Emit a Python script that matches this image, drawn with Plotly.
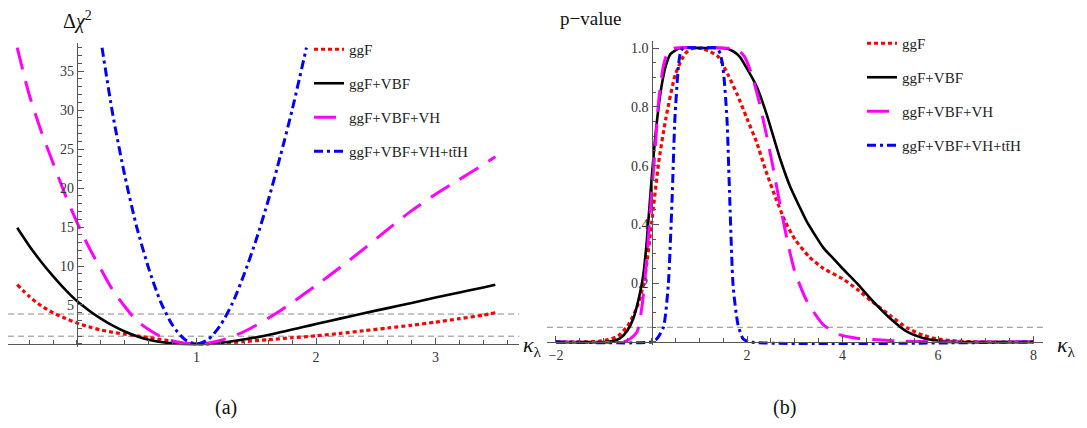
import plotly.graph_objects as go

# ---------------- Panel (a): delta chi^2 vs kappa_lambda ----------------
k_ggF = [-0.5, -0.4, -0.3, -0.2, -0.1, 0.0, 0.1, 0.2, 0.3, 0.4, 0.5, 0.6, 0.7, 0.8, 0.9, 1.0,
         1.2, 1.4, 1.6, 1.8, 2.0, 2.2, 2.4, 2.6, 2.8, 3.0, 3.2, 3.4, 3.5]
chi2_ggF = [7.6, 6.1, 4.9, 4.0, 3.3, 2.7, 2.2, 1.8, 1.5, 1.25, 1.05, 0.82, 0.58, 0.33, 0.12, 0.0,
            0.08, 0.3, 0.55, 0.8, 1.05, 1.35, 1.7, 2.05, 2.4, 2.8, 3.25, 3.7, 4.0]

k_VBF = [-0.5, -0.4, -0.3, -0.2, -0.1, 0.0, 0.1, 0.2, 0.3, 0.4, 0.5, 0.6, 0.7, 0.8, 0.9, 1.0,
         1.1, 1.2, 1.3, 1.4, 1.5, 1.6, 1.7, 1.8, 1.9, 2.0,
         2.2, 2.4, 2.6, 2.8, 3.0, 3.2, 3.4, 3.5]
chi2_VBF = [14.9, 12.6, 10.55, 8.7, 7.0, 5.5, 4.3, 3.25, 2.35, 1.6, 1.0, 0.55, 0.25, 0.08, 0.02, 0.0,
            0.03, 0.15, 0.35, 0.6, 0.85, 1.15, 1.5, 1.85, 2.2, 2.55,
            3.25, 3.95, 4.6, 5.25, 5.95, 6.6, 7.25, 7.6]

k_VH = [-0.5, -0.4, -0.3, -0.2, -0.1, 0.0, 0.1, 0.2, 0.3, 0.4, 0.5, 0.6, 0.7, 0.8, 0.9, 1.0,
        1.1, 1.2, 1.3, 1.4, 1.5, 1.6, 1.7, 1.8, 1.9, 2.0,
        2.2, 2.4, 2.6, 2.8, 3.0, 3.2, 3.4, 3.5]
chi2_VH = [38.0, 32.0, 27.3, 23.2, 19.2, 15.6, 12.4, 9.6, 6.9, 4.8, 3.0, 1.85, 0.95, 0.38, 0.08, 0.0,
           0.12, 0.45, 0.95, 1.6, 2.4, 3.3, 4.25, 5.3, 6.4, 7.5,
           9.8, 12.2, 14.7, 17.1, 19.2, 21.1, 23.0, 24.0]

k_ttH = [0.21, 0.3, 0.4, 0.5, 0.6, 0.7, 0.8, 0.9, 1.0, 1.1, 1.2, 1.3, 1.4, 1.5, 1.6, 1.7, 1.8, 1.92]
chi2_ttH = [38.0, 29.4, 21.6, 15.0, 9.7, 5.4, 2.4, 0.6, 0.0, 0.6, 2.4, 5.2, 9.0, 13.4, 18.4, 24.0, 30.0, 38.0]

chi2_levels = [1.0, 3.84]

# ---------------- Panel (b): p-value vs kappa_lambda ----------------
kp_ggF = [-2, -1.5, -1.1, -0.9, -0.7, -0.5, -0.3, -0.15, 0.0, 0.15, 0.3, 0.5, 0.7, 0.85, 1.0,
          1.2, 1.4, 1.6, 1.8, 2.0, 2.2, 2.4, 2.6, 2.8, 3.0, 3.3, 3.6, 4.0, 4.3, 4.6, 5.0,
          5.35, 5.7, 6.0, 6.4, 7.0, 8.0]
p_ggF = [0, 0, 0.002, 0.008, 0.02, 0.055, 0.12, 0.21, 0.40, 0.61, 0.76, 0.91, 0.98, 0.998, 1.0,
         0.99, 0.97, 0.91, 0.84, 0.76, 0.68, 0.58, 0.49, 0.41, 0.35, 0.29, 0.25, 0.215, 0.18, 0.14, 0.09,
         0.048, 0.022, 0.01, 0.003, 0, 0]

kp_VBF = [-2, -1.0, -0.8, -0.66, -0.5, -0.38, -0.25, -0.17, -0.1, 0.0,
          0.1, 0.2, 0.3, 0.4, 0.6, 1.0, 1.5, 1.7, 1.85, 2.0,
          2.2, 2.4, 2.55, 2.7, 2.9, 3.1, 3.25, 3.4, 3.6, 3.8,
          4.0, 4.3, 4.6, 5.0, 5.35, 5.7, 6.0, 6.5, 8.0]
p_VBF = [0, 0, 0.003, 0.012, 0.04, 0.08, 0.16, 0.23, 0.34, 0.55,
         0.73, 0.86, 0.94, 0.98, 1.0, 1.0, 1.0, 0.99, 0.97, 0.93,
         0.87, 0.78, 0.70, 0.62, 0.53, 0.46, 0.41, 0.37, 0.32, 0.285,
         0.25, 0.20, 0.145, 0.08, 0.035, 0.013, 0.005, 0, 0]

kp_VH = [-2, -0.6, -0.45, -0.3, -0.2, -0.1, 0.0, 0.07, 0.15, 0.25,
         0.35, 0.5, 1.5, 1.8, 1.95, 2.1, 2.25, 2.4, 2.55, 2.7,
         2.85, 3.0, 3.25, 3.6, 3.95, 4.3, 4.65, 5.3, 6.0, 8.0]
p_VH = [0, 0, 0.01, 0.035, 0.12, 0.28, 0.50, 0.64, 0.82, 0.94,
        0.99, 1.0, 1.0, 0.995, 0.97, 0.91, 0.82, 0.71, 0.59, 0.46,
        0.34, 0.24, 0.14, 0.058, 0.024, 0.013, 0.008, 0.003, 0, 0]

kp_ttH = [-2, 0.0, 0.11, 0.25, 0.35, 0.43, 0.49, 0.56, 0.6, 0.66, 1.0,
          1.37, 1.44, 1.5, 1.58, 1.64, 1.71, 1.81, 1.92, 2.05, 8.0]
p_ttH = [0, 0, 0.01, 0.05, 0.19, 0.48, 0.76, 0.93, 0.98, 1.0, 1.0,
         1.0, 0.98, 0.93, 0.76, 0.48, 0.19, 0.06, 0.01, 0, 0]

p_levels = [0.05]

names = ["ggF", "ggF+VBF", "ggF+VBF+VH", "ggF+VBF+VH+tt\u0304H"]
colors = ["#ff0000", "#000000", "#ff00ff", "#0000ff"]
dashes = ["4px,3px", "solid", "22px,12px", "9px,4px,3px,4px"]
widths = [3.2, 2.6, 3.0, 3.0]

# The page body has an 8px default margin; lay the figure out in window pixels.
OFF = 8
W, H = 1087 - OFF, 428 - OFF
SERIF = "Liberation Serif, Times New Roman, serif"


def px_x(p):
    return min(1.0, max(0.0, (p - OFF) / W))


def px_y(p):
    return min(1.0, max(0.0, 1 - (p - OFF) / H))


fig = go.Figure()

sets_a = [(k_ggF, chi2_ggF), (k_VBF, chi2_VBF), (k_VH, chi2_VH), (k_ttH, chi2_ttH)]
sets_b = [(kp_ggF, p_ggF), (kp_VBF, p_VBF), (kp_VH, p_VH), (kp_ttH, p_ttH)]

for i, (xs, ys) in enumerate(sets_a):
    fig.add_trace(go.Scatter(
        x=xs, y=ys, mode="lines", name=names[i], xaxis="x", yaxis="y",
        line=dict(color=colors[i], dash=dashes[i], width=widths[i], shape="spline", smoothing=0.7),
        legend="legend", legendgroup="a%d" % i, hoverinfo="skip"))

for i, (xs, ys) in enumerate(sets_b):
    fig.add_trace(go.Scatter(
        x=xs, y=ys, mode="lines", name=names[i], xaxis="x2", yaxis="y2",
        line=dict(color=colors[i], dash=dashes[i], width=widths[i], shape="spline", smoothing=0.6),
        legend="legend2", legendgroup="b%d" % i, hoverinfo="skip"))

for lv in chi2_levels:
    fig.add_shape(type="line", xref="x domain", yref="y", x0=0, x1=1, y0=lv, y1=lv,
                  line=dict(color="#8a8a8a", width=1, dash="6px,4px"), layer="below")
for lv in p_levels:
    fig.add_shape(type="line", xref="x2 domain", yref="y2", x0=0, x1=1, y0=lv, y1=lv,
                  line=dict(color="#8a8a8a", width=1, dash="6px,4px"), layer="below")

axis_common = dict(showline=True, linecolor="#555555", linewidth=1.2, showgrid=False,
                   zeroline=False, ticks="inside", tickcolor="#555555", tickwidth=1,
                   tickfont=dict(family=SERIF, size=14, color="#333333"), anchor="free")

fig.update_layout(
    width=W, height=H,
    margin=dict(l=0, r=0, t=0, b=0),
    paper_bgcolor="white", plot_bgcolor="rgba(0,0,0,0)",
    showlegend=True,
    xaxis=dict(axis_common, domain=[px_x(8), px_x(519.2)], range=[-0.577, 3.7],
               position=px_y(344), tickmode="array", tickvals=[1, 2, 3], ticktext=["1", "2", "3"],
               ticklen=6,
               minor=dict(tickmode="linear", tick0=0, dtick=0.2, ticklen=3.5, ticks="inside",
                          tickcolor="#555555")),
    yaxis=dict(axis_common, domain=[px_y(347.1), px_y(43)], range=[-0.4, 38.6],
               position=px_x(77), tickmode="array", tickvals=[5, 10, 15, 20, 25, 30, 35],
               ticktext=["5", "10", "15", "20", "25", "30", "35"], ticklen=6,
               minor=dict(tickmode="linear", tick0=0, dtick=1, ticklen=3.5, ticks="inside",
                          tickcolor="#555555")),
    xaxis2=dict(axis_common, domain=[px_x(546.9), px_x(1043.1)], range=[-2.19, 8.2],
                position=px_y(342), tickmode="array", tickvals=[-2, 2, 4, 6, 8],
                ticktext=["\u22122", "2", "4", "6", "8"], ticklen=6,
                minor=dict(tickmode="linear", tick0=0, dtick=0.5, ticklen=3.5, ticks="inside",
                           tickcolor="#555555")),
    yaxis2=dict(axis_common, domain=[px_y(344.9), px_y(41)], range=[-0.01, 1.024],
                position=px_x(651.5), tickmode="array", tickvals=[0.2, 0.4, 0.6, 0.8, 1.0],
                ticktext=["0.2", "0.4", "0.6", "0.8", "1.0"], ticklen=6,
                minor=dict(tickmode="linear", tick0=0, dtick=0.05, ticklen=3.5, ticks="inside",
                           tickcolor="#555555")),
    legend=dict(x=px_x(309), y=px_y(33), xanchor="left", yanchor="top",
                font=dict(family=SERIF, size=15, color="#222222"), bgcolor="rgba(0,0,0,0)",
                tracegroupgap=11.5, traceorder="grouped", itemwidth=30),
    legend2=dict(x=px_x(862), y=px_y(27), xanchor="left", yanchor="top",
                 font=dict(family=SERIF, size=15, color="#222222"), bgcolor="rgba(0,0,0,0)",
                 tracegroupgap=11.5, traceorder="grouped", itemwidth=30),
)

annotations = [
    dict(text="\u0394<i>\u03c7</i><sup>2</sup>", x=px_x(78), y=px_y(20), size=20),
    dict(text="p\u2212value", x=px_x(590), y=px_y(18), size=19),
    dict(text="<i>\u03ba</i><sub>\u03bb</sub>", x=px_x(532), y=px_y(346), size=22),
    dict(text="<i>\u03ba</i><sub>\u03bb</sub>", x=px_x(1066), y=px_y(346), size=22),
    dict(text="(a)", x=px_x(226), y=px_y(407), size=20),
    dict(text="(b)", x=px_x(784), y=px_y(407), size=20),
]
for a in annotations:
    fig.add_annotation(text=a["text"], x=a["x"], y=a["y"], xref="paper", yref="paper",
                       showarrow=False, xanchor="center", yanchor="middle",
                       font=dict(family=SERIF, size=a["size"], color="#111111"))

fig.write_html("out.html")
